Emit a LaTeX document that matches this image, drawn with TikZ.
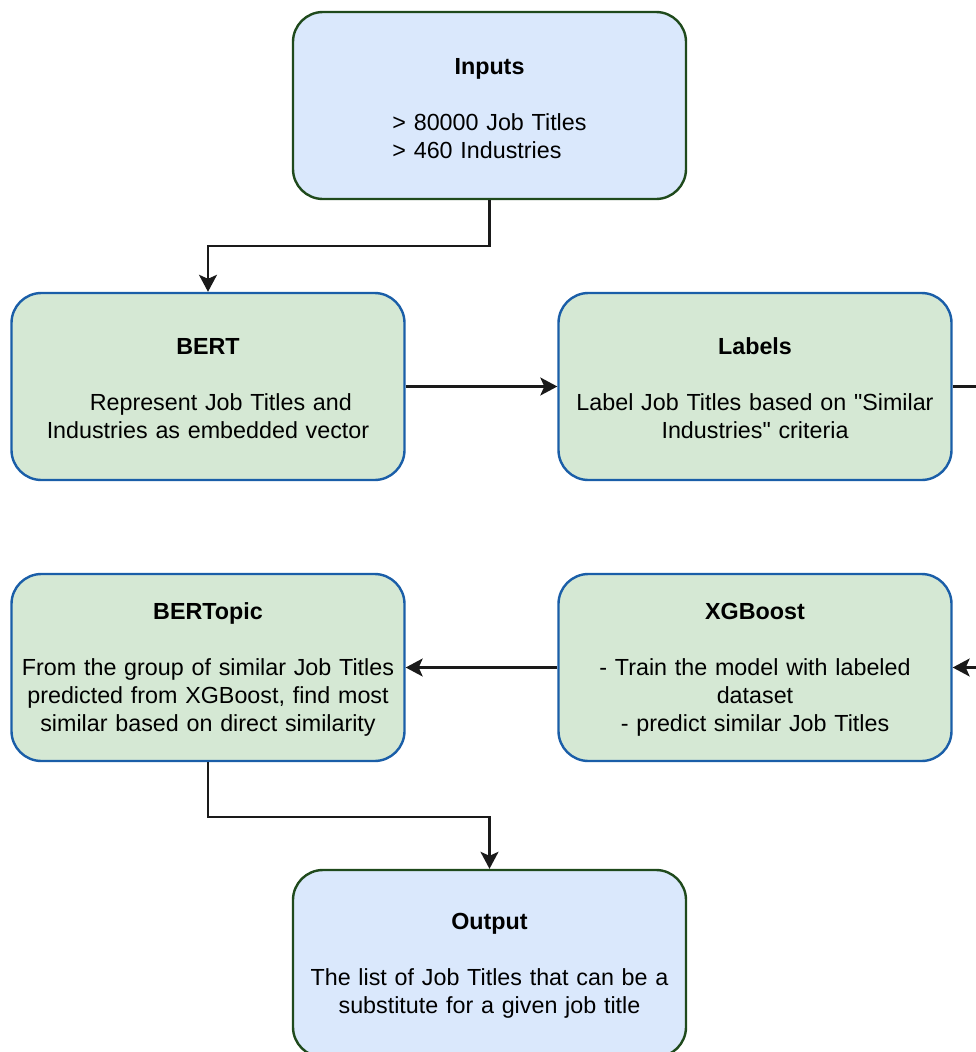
\documentclass[tikz,border=0pt]{standalone}
\usepackage{fontspec}
\setmainfont{Liberation Sans}[Ligatures=TeXOff]
\usetikzlibrary{arrows.meta}

\definecolor{bluefill}{HTML}{DAE8FC}
\definecolor{greenfill}{HTML}{D5E8D4}
\definecolor{darkgreen}{HTML}{1F4A1C}
\definecolor{strokeblue}{HTML}{1A5EA8}
\definecolor{linegray}{HTML}{1A1A1A}

% card title: bold, with room above (optional) and a blank line below
\newcommand{\cardtitle}[2][20pt]{\rule{0pt}{#1}\textbf{#2}\\[28pt]}

\tikzset{
  card/.style={rounded corners=30pt, line width=2.4pt,
    minimum width=393pt, minimum height=187pt, inner sep=0pt,
    text width=380pt, align=center,
    font=\fontsize{23.3}{28}\selectfont},
  bluecard/.style={card, draw=darkgreen, fill=bluefill},
  greencard/.style={card, draw=strokeblue, fill=greenfill},
  flow/.style={draw=linegray, line width=2.2pt,
    -{Stealth[length=17pt, width=18pt, inset=4pt]}}
}

\begin{document}
\begin{tikzpicture}[x=1pt, y=-1pt]
  \useasboundingbox (0,0) rectangle (976,1052);
  \clip (0,0) rectangle (976,1052);

  % input and output cards
  \node[bluecard] (inputs) at (489.5,105.5)
    {\rule{0pt}{30pt}\textbf{Inputs}\\[30pt]
     \begin{tabular}{@{}l@{}}> 80000 Job Titles\\> 460 Industries\end{tabular}};
  \node[bluecard] (output) at (489.5,963.5)
    {\cardtitle{Output}
     The list of Job Titles that can be a\\substitute for a given job title};

  % processing cards
  \node[greencard] (bert) at (208,386.5)
    {\cardtitle{BERT}
     \hspace*{1.1em}Represent Job Titles and\\Industries as embedded vector};
  \node[greencard] (labels) at (755,386.5)
    {\cardtitle{Labels}
     Label Job Titles based on "Similar\\Industries" criteria};
  \node[greencard] (bertopic) at (208,667.5)
    {\cardtitle{BERTopic}
     From the group of similar Job Titles\\predicted from XGBoost, find most\\similar based on direct similarity};
  \node[greencard] (xgb) at (755,667.5)
    {\cardtitle{XGBoost}
     - Train the model with labeled\\dataset\\- predict similar Job Titles};

  % connectors
  \draw[flow] (inputs.south) -- ++(0,46) -| (bert.north);
  \draw[flow] (bert.east) -- (labels.west);
  \draw[flow] (labels.east) -- ++(45,0) |- (xgb.east);
  \draw[flow] (xgb.west) -- (bertopic.east);
  \draw[flow] (bertopic.south) -- ++(0,55) -| (output.north);
\end{tikzpicture}
\end{document}
